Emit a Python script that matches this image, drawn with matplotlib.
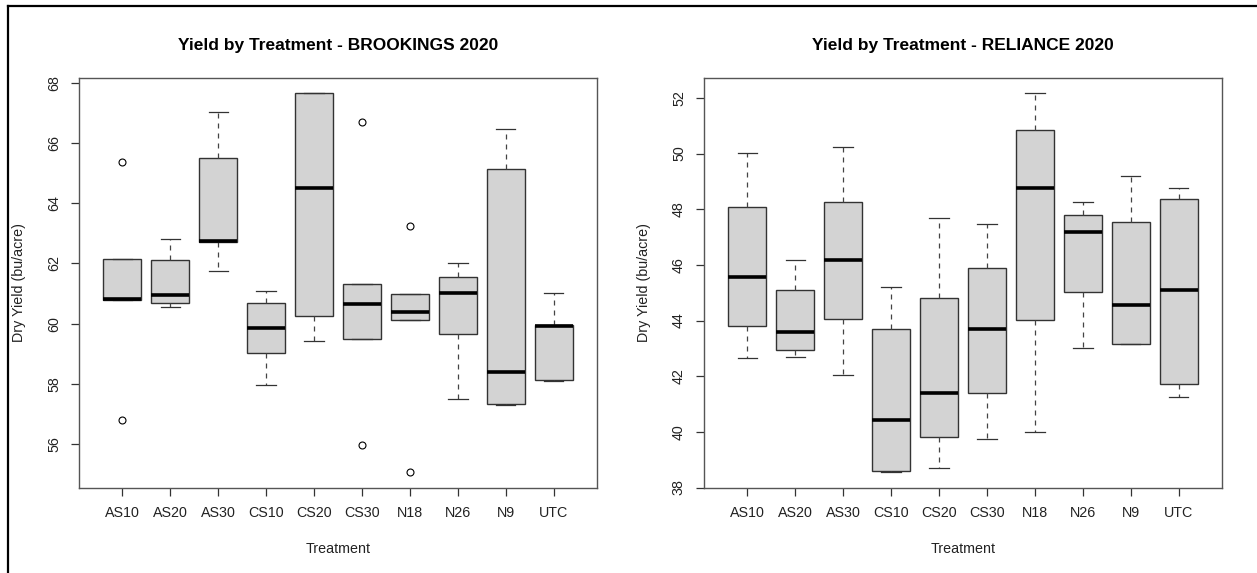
import matplotlib
matplotlib.use("Agg")
import matplotlib.pyplot as plt
from matplotlib.lines import Line2D

plt.rcParams['font.family'] = ['Liberation Sans', 'DejaVu Sans']

# treatments on the x axis
treatments = ['AS10', 'AS20', 'AS30', 'CS10', 'CS20', 'CS30', 'N18', 'N26', 'N9', 'UTC']

# BROOKINGS 2020 box stats (bu/acre)
brk_whislo = [60.78, 60.54, 61.76, 57.96, 59.42, 59.50, 60.11, 57.48, 57.28, 58.09]
brk_q1 = [60.78, 60.68, 62.70, 59.02, 60.24, 59.50, 60.11, 59.66, 57.33, 58.11]
brk_med = [60.82, 60.95, 62.73, 59.84, 64.50, 60.64, 60.40, 61.02, 58.38, 59.91]
brk_q3 = [62.15, 62.12, 65.50, 60.70, 67.67, 61.32, 61.00, 61.54, 65.14, 59.95]
brk_whishi = [62.15, 62.82, 67.02, 61.10, 67.67, 61.32, 61.00, 62.02, 66.48, 61.02]
brk_fliers = [[65.37, 56.81], [], [], [], [], [66.70, 55.97], [63.26, 55.05], [], [], []]

# RELIANCE 2020 box stats (bu/acre)
rel_whislo = [42.64, 42.69, 42.03, 38.54, 38.71, 39.75, 39.98, 43.03, 43.15, 41.26]
rel_q1 = [43.82, 42.93, 44.05, 38.59, 39.82, 41.40, 44.02, 45.02, 43.17, 41.71]
rel_med = [45.56, 43.60, 46.17, 40.43, 41.41, 43.71, 48.77, 47.17, 44.55, 45.08]
rel_q3 = [48.08, 45.09, 48.27, 43.71, 44.80, 45.90, 50.84, 47.80, 47.55, 48.37]
rel_whishi = [50.03, 46.17, 50.24, 45.19, 47.69, 47.46, 52.18, 48.27, 49.20, 48.77]
rel_fliers = [[] for _ in treatments]

brk_ticks = [56, 58, 60, 62, 64, 66, 68]
rel_ticks = [38, 40, 42, 44, 46, 48, 50, 52]


def make_stats(lo, q1, med, q3, hi, fl):
    return [dict(whislo=a, q1=b, med=c, q3=d, whishi=e, fliers=f, label=t)
            for a, b, c, d, e, f, t in zip(lo, q1, med, q3, hi, fl, treatments)]


def draw_panel(ax, stats, yticks, title):
    ax.bxp(stats, positions=range(1, len(stats) + 1), widths=0.8,
           capwidths=0.4, patch_artist=True,
           boxprops=dict(facecolor='#d3d3d3', edgecolor='#333333', lw=1.0),
           medianprops=dict(color='black', lw=2.6, solid_capstyle='butt'),
           whiskerprops=dict(color='#444444', lw=0.9, linestyle=(0, (4, 4))),
           capprops=dict(color='#333333', lw=0.9),
           flierprops=dict(marker='o', mfc='none', mec='black', ms=5, mew=0.8))
    # R-style axis extent: 4% padding beyond the data
    vals = [v for s in stats for v in (s['whislo'], s['whishi'], *s['fliers'])]
    lo, hi = min(vals), max(vals)
    pad = 0.04 * (hi - lo)
    ax.set_ylim(lo - pad, hi + pad)
    ax.set_xlim(0.1, len(stats) + 0.9)
    ax.set_yticks(yticks)
    ax.set_yticklabels([str(t) for t in yticks], rotation=90, va='center')
    ax.set_xticks(range(1, len(stats) + 1))
    ax.set_xticklabels(treatments)
    ax.tick_params(axis='both', length=6, width=0.9, color='#333333',
                   labelsize=10.3, labelcolor='#222222', pad=7)
    for sp in ax.spines.values():
        sp.set_color('#555555')
        sp.set_linewidth(1.0)
    ax.set_xlabel('Treatment', fontsize=10.3, color='#222222')
    ax.xaxis.set_label_coords(0.5, -0.150)
    ax.xaxis.label.set_va('center')
    ax.set_ylabel('Dry Yield (bu/acre)', fontsize=10.3, color='#222222')
    ax.yaxis.set_label_coords(-0.116, 0.5)
    ax.yaxis.label.set_va('center')
    ax.set_title(title, fontsize=12.5, fontweight='bold', y=1.0676, pad=0)


fig = plt.figure(figsize=(12.57, 5.73), dpi=100)
ax1 = fig.add_axes([0.06285, 0.1489, 0.4121, 0.7155])
ax2 = fig.add_axes([0.56006, 0.1489, 0.4121, 0.7155])

draw_panel(ax1, make_stats(brk_whislo, brk_q1, brk_med, brk_q3, brk_whishi, brk_fliers),
           brk_ticks, 'Yield by Treatment - BROOKINGS 2020')
draw_panel(ax2, make_stats(rel_whislo, rel_q1, rel_med, rel_q3, rel_whishi, rel_fliers),
           rel_ticks, 'Yield by Treatment - RELIANCE 2020')

# screenshot frame on the top and left edges
fx = 7.7 / 1257
fy = 1 - 5.7 / 573
fig.add_artist(Line2D([fx, 1], [fy, fy], transform=fig.transFigure, color='black', lw=1.6))
fig.add_artist(Line2D([fx, fx], [0, fy], transform=fig.transFigure, color='black', lw=1.6))

fig.savefig('out.png', dpi=100)
